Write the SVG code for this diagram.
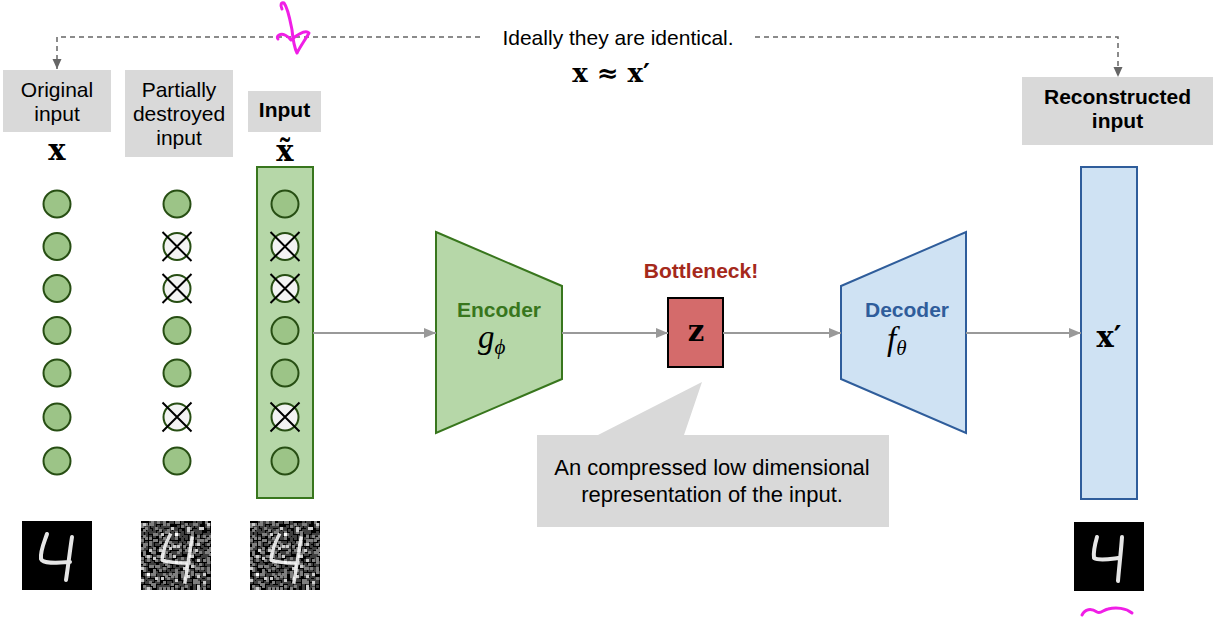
<svg xmlns="http://www.w3.org/2000/svg" xmlns:xlink="http://www.w3.org/1999/xlink" width="1213" height="622" viewBox="0 0 1213 622">
  <style>
    .lbl { fill: #d9d9d9; }
    .t { font-family: "Liberation Sans", Arial, sans-serif; font-size: 21px; fill: #000; text-anchor: middle; }
    .b { font-weight: bold; }
    .m { font-family: "DejaVu Serif", "Liberation Serif", serif; font-weight: bold; font-size: 29px; fill: #000; text-anchor: middle; }
    .mi { font-family: "Liberation Serif", "DejaVu Serif", serif; font-style: italic; font-size: 33px; fill: #000; }
    .unit { fill: #9cc487; stroke: #274e13; stroke-width: 2; }
    .drop { fill: #f3f3f3; stroke: #274e13; stroke-width: 2; }
    .cross { stroke: #000; stroke-width: 2; }
    .flow { fill: none; stroke: #999; stroke-width: 2; marker-end: url(#ah); }
    .dash { fill: none; stroke: #666; stroke-width: 1.5; stroke-dasharray: 5 4; marker-end: url(#dh); }
    .digit { fill: none; stroke: #e6e6e6; stroke-width: 4; stroke-linecap: round; stroke-linejoin: round; filter: url(#soft); }
    .ndigit { fill: none; stroke: #ddd; stroke-width: 3.5; stroke-linecap: square; stroke-linejoin: round; stroke-dasharray: 7 2 4 3; }
    .ink { fill: none; stroke: #f01ee6; stroke-width: 3; stroke-linecap: round; stroke-linejoin: round; }
  </style>
  <defs>
    <marker id="ah" viewBox="0 0 12 10" refX="12" refY="5" markerWidth="12" markerHeight="10" orient="auto" markerUnits="userSpaceOnUse">
      <path d="M0 0 L12 5 L0 10 z" fill="#999"/>
    </marker>
    <marker id="dh" viewBox="0 0 10 10" refX="10" refY="5" markerWidth="10" markerHeight="10" orient="auto" markerUnits="userSpaceOnUse">
      <path d="M0 0.5 L10 5 L0 9.5 z" fill="#666"/>
    </marker>
    <filter id="soft" x="-20%" y="-20%" width="140%" height="140%">
      <feGaussianBlur stdDeviation="0.7"/>
    </filter>
    <!-- coarse salt noise, snapped to a 2.5px grid like a 28x28 bitmap -->
    <filter id="speckle" x="0" y="0" width="1" height="1">
      <feTurbulence type="fractalNoise" baseFrequency="0.32" numOctaves="1" seed="11" result="n"/>
      <feColorMatrix in="n" type="matrix" values="0 0 0 0 1  0 0 0 0 1  0 0 0 0 1  1 0 0 0 0" result="w"/>
      <feComponentTransfer in="w" result="s">
        <feFuncA type="discrete" tableValues="0 0 0 0 0 0.25 0.5 0.8 1 1"/>
      </feComponentTransfer>
      <feFlood x="1" y="1" width="1" height="1" flood-color="#fff" result="dot"/>
      <feComposite in="dot" in2="dot" operator="over" x="0" y="0" width="2.5" height="2.5" result="cell"/>
      <feTile in="cell" result="grid"/>
      <feComposite in="s" in2="grid" operator="in" result="px"/>
      <feMorphology in="px" operator="dilate" radius="1"/>
    </filter>
    <g id="noisy4">
      <rect width="70" height="69" fill="#000"/>
      <path class="ndigit" d="M29 14 C25 22 22 30 21 39 C30 42 40 42 48 42 M51 17 C49 30 46 48 44 61"/>
      <rect width="70" height="69" fill="#fff" filter="url(#speckle)"/>
    </g>
  </defs>

  <!-- original input column -->
  <g id="original-input">
    <rect class="lbl" x="3" y="70" width="108" height="62"/>
    <text class="t" x="57" y="97">Original</text>
    <text class="t" x="57" y="121">input</text>
    <text class="m" x="57" y="160">x</text>
    <g>
      <circle class="unit" cx="57" cy="204" r="13.5"/>
      <circle class="unit" cx="57" cy="246.5" r="13.5"/>
      <circle class="unit" cx="57" cy="288.5" r="13.5"/>
      <circle class="unit" cx="57" cy="330.5" r="13.5"/>
      <circle class="unit" cx="57" cy="373" r="13.5"/>
      <circle class="unit" cx="57" cy="417" r="13.5"/>
      <circle class="unit" cx="57" cy="461" r="13.5"/>
    </g>
    <rect x="22" y="521" width="70" height="69" fill="#000"/>
    <path class="digit" d="M47 534 C44 543 40 551 41 559 C43 564 56 563 70 562 M72 537 C70 550 68 567 66 580"/>
  </g>

  <!-- partially destroyed input column -->
  <g id="destroyed-input">
    <rect class="lbl" x="125" y="70" width="108" height="87"/>
    <text class="t" x="179" y="97">Partially</text>
    <text class="t" x="179" y="121">destroyed</text>
    <text class="t" x="179" y="145">input</text>
    <circle class="unit" cx="177" cy="204" r="13.5"/>
    <circle class="drop" cx="177" cy="246.5" r="13.5"/>
    <circle class="drop" cx="177" cy="288.5" r="13.5"/>
    <circle class="unit" cx="177" cy="330.5" r="13.5"/>
    <circle class="unit" cx="177" cy="373" r="13.5"/>
    <circle class="drop" cx="177" cy="417" r="13.5"/>
    <circle class="unit" cx="177" cy="461" r="13.5"/>
    <path class="cross" d="M162.5 232 L191.5 261 M191.5 232 L162.5 261 M162.5 274 L191.5 303 M191.5 274 L162.5 303 M162.5 402.5 L191.5 431.5 M191.5 402.5 L162.5 431.5"/>
    <use xlink:href="#noisy4" x="141" y="521"/>
  </g>

  <!-- encoder input column -->
  <g id="input">
    <rect class="lbl" x="248" y="91" width="73" height="41"/>
    <text class="t b" x="284.5" y="117">Input</text>
    <text class="m" x="285" y="161">x̃</text>
    <rect x="257" y="167" width="56" height="331" fill="#b6d7a8" stroke="#38761d" stroke-width="2"/>
    <circle class="unit" cx="285" cy="204" r="13.5"/>
    <circle class="drop" cx="285" cy="246.5" r="13.5"/>
    <circle class="drop" cx="285" cy="288.5" r="13.5"/>
    <circle class="unit" cx="285" cy="330.5" r="13.5"/>
    <circle class="unit" cx="285" cy="373" r="13.5"/>
    <circle class="drop" cx="285" cy="417" r="13.5"/>
    <circle class="unit" cx="285" cy="461" r="13.5"/>
    <path class="cross" d="M270.5 232 L299.5 261 M299.5 232 L270.5 261 M270.5 274 L299.5 303 M299.5 274 L270.5 303 M270.5 402.5 L299.5 431.5 M299.5 402.5 L270.5 431.5"/>
    <use xlink:href="#noisy4" x="250" y="521"/>
  </g>

  <!-- encoder -->
  <g id="encoder">
    <path d="M436 232 L562 286 L562 379 L436 433 Z" fill="#b6d7a8" stroke="#38761d" stroke-width="2"/>
    <text class="t b" x="499" y="317" style="fill:#38761d">Encoder</text>
    <text class="mi" x="478" y="348">g<tspan font-size="21" dy="6">ϕ</tspan></text>
  </g>

  <!-- bottleneck code -->
  <g id="bottleneck">
    <text class="t b" x="701" y="278" style="fill:#a5291b">Bottleneck!</text>
    <rect x="668" y="298" width="55" height="69" fill="#d46b6b" stroke="#000" stroke-width="2"/>
    <text class="m" x="696" y="341">z</text>
  </g>

  <!-- decoder -->
  <g id="decoder">
    <path d="M841 286 L966 232 L966 433 L841 379 Z" fill="#cfe2f3" stroke="#2f5d9b" stroke-width="2"/>
    <text class="t b" x="907" y="317" style="fill:#2f5d9b">Decoder</text>
    <text class="mi" x="887" y="350">f<tspan font-size="21" dy="5">θ</tspan></text>
  </g>

  <!-- reconstruction column -->
  <g id="reconstructed-input">
    <rect class="lbl" x="1022" y="77" width="191" height="68"/>
    <text class="t b" x="1117.5" y="104">Reconstructed</text>
    <text class="t b" x="1117.5" y="128">input</text>
    <rect x="1081" y="167" width="56" height="332" fill="#cfe2f3" stroke="#2f5d9b" stroke-width="2"/>
    <text class="m" x="1109" y="347">x′</text>
    <rect x="1074" y="522" width="70" height="69" fill="#000"/>
    <path class="digit" d="M1097 537 C1095 544 1093 551 1094 558 C1099 561 1110 559 1118 558 M1122 537 C1121 552 1119 568 1118 581"/>
  </g>

  <!-- identity note -->
  <g id="note">
    <text class="t" x="618" y="45">Ideally they are identical.</text>
    <text class="m" x="611" y="82" style="font-size:26px">x ≈ x′</text>
  </g>

  <!-- callout -->
  <g id="callout">
    <path d="M537 435 L598 435 L702 382 L684 435 L889 435 L889 527 L537 527 Z" fill="#d9d9d9"/>
    <text class="t" x="712" y="475" style="font-size:22px">An compressed low dimensional</text>
    <text class="t" x="712" y="502" style="font-size:22px">representation of the input.</text>
  </g>

  <!-- connectors -->
  <g id="connectors">
    <path class="flow" d="M313 333 H436"/>
    <path class="flow" d="M562 333 H668"/>
    <path class="flow" d="M723 333 H841"/>
    <path class="flow" d="M966 333 H1081"/>
    <path class="dash" d="M480 37 H57 V69"/>
    <path class="dash" d="M755 37 H1118 V77"/>
  </g>

  <!-- pen marks -->
  <g id="pen-marks">
    <path class="ink" d="M282 9 C280 5 281 2 284 3 C288 8 290 20 292 30 C293 40 294 47 297 53 C300 47 305 40 309 33 C305 29 297 35 291 40 C288 36 283 33 279 35 C277 36 277 38 278 39"/>
    <path class="ink" d="M1082 615 C1085 609 1091 608 1097 612 C1101 614 1103 610 1108 609 C1116 607 1126 608 1132 613"/>
  </g>
</svg>
